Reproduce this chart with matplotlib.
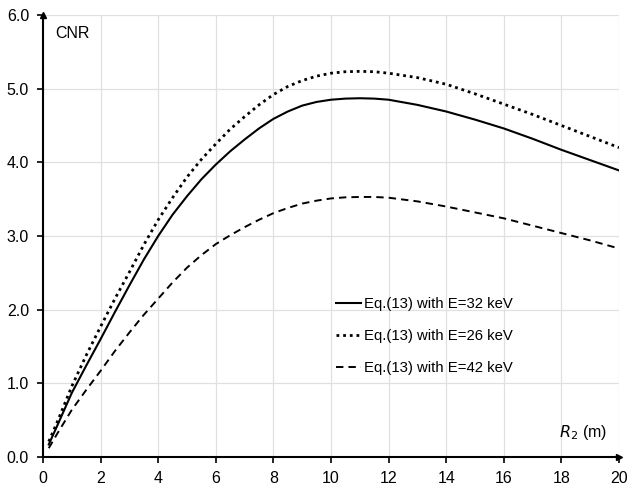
import matplotlib
matplotlib.use("Agg")
import matplotlib.pyplot as plt

plt.rcParams["font.family"] = ["Liberation Sans", "DejaVu Sans"]

# data
r2 = [0.2, 0.5, 1, 1.5, 2, 2.5, 3, 3.5, 4, 4.5, 5, 5.5, 6, 6.5, 7, 7.5, 8, 8.5,
      9, 9.5, 10, 10.5, 11, 11.5, 12, 13, 14, 15, 16, 17, 18, 19, 20]
cnr_32 = [0.17, 0.43, 0.87, 1.24, 1.60, 1.97, 2.33, 2.68, 3.00, 3.29, 3.54, 3.77,
          3.97, 4.15, 4.31, 4.46, 4.59, 4.69, 4.77, 4.82, 4.85, 4.865, 4.87, 4.865,
          4.85, 4.78, 4.69, 4.58, 4.46, 4.32, 4.17, 4.03, 3.89]
cnr_26 = [0.21, 0.48, 0.96, 1.38, 1.77, 2.15, 2.51, 2.88, 3.22, 3.52, 3.80, 4.04,
          4.25, 4.45, 4.62, 4.78, 4.92, 5.03, 5.11, 5.17, 5.21, 5.23, 5.235, 5.23,
          5.21, 5.15, 5.06, 4.93, 4.79, 4.65, 4.50, 4.35, 4.20]
cnr_42 = [0.12, 0.32, 0.64, 0.91, 1.17, 1.44, 1.69, 1.93, 2.15, 2.37, 2.57, 2.74,
          2.89, 3.01, 3.12, 3.22, 3.31, 3.38, 3.44, 3.48, 3.51, 3.525, 3.53, 3.53,
          3.52, 3.47, 3.40, 3.32, 3.24, 3.14, 3.04, 2.94, 2.83]
labels = ["Eq.(13) with E=32 keV", "Eq.(13) with E=26 keV", "Eq.(13) with E=42 keV"]

fig = plt.figure(figsize=(6.4, 4.94), dpi=100)
ax = fig.add_axes([43 / 640, 37 / 494, 576 / 640, 442 / 494])

ax.plot(r2, cnr_32, color="black", lw=1.5, label=labels[0])
ax.plot(r2, cnr_26, color="black", lw=2.0, linestyle=(0, (1, 1.4)), label=labels[1])
ax.plot(r2, cnr_42, color="black", lw=1.4, linestyle=(0, (3.8, 2.6)), label=labels[2])

ax.set_xlim(0, 20)
ax.set_ylim(0, 6)
ax.set_xticks(range(0, 21, 2))
ax.set_yticks([0, 1, 2, 3, 4, 5, 6])
ax.set_yticklabels([f"{v:.1f}" for v in range(7)])
ax.grid(True, color="#e0e0e0", lw=0.9)
ax.set_axisbelow(True)

for s in ["top", "right"]:
    ax.spines[s].set_visible(False)
for s in ["left", "bottom"]:
    ax.spines[s].set_linewidth(1.5)
ax.tick_params(axis="both", labelsize=11.5, length=4, width=1.2, direction="out", pad=6)

# arrow heads on the axes
ax.plot(0, 1, marker="^", color="black", ms=5, transform=ax.transAxes, clip_on=False)
ax.plot(1, 0, marker=">", color="black", ms=5, transform=ax.transAxes, clip_on=False)

ax.text(0.42, 5.75, "CNR", fontsize=11.5, va="center")
ax.text(17.9, 0.33, r"$R_2$ (m)", fontsize=11.5, va="center")

ax.legend(loc="center left", bbox_to_anchor=(336 / 640, 1 - 336 / 494),
          bbox_transform=fig.transFigure, frameon=False, fontsize=10.7,
          handlelength=1.7, handletextpad=0.2, labelspacing=1.2,
          borderpad=0, borderaxespad=0)

fig.savefig("out.png", dpi=100)
